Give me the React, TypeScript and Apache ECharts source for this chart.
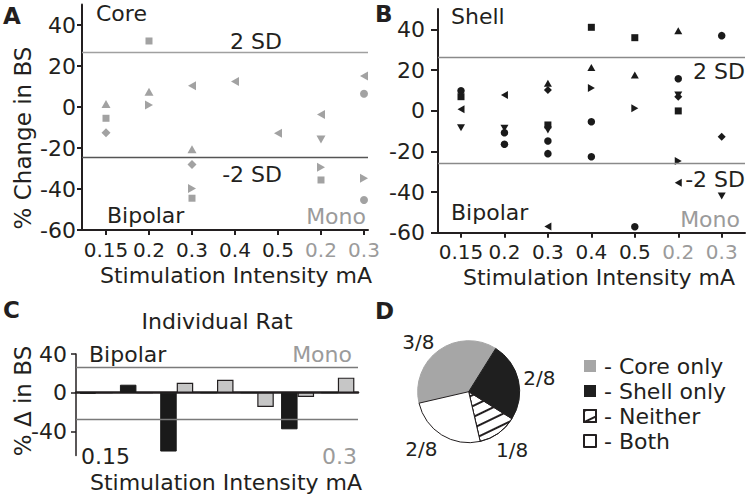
import React, { useEffect, useRef } from 'react';
import * as echarts from 'echarts';

const FONT = 'DejaVu Sans';
const DARK = '#231f20';
const GRAY_TEXT = '#9b9b9b';
const CORE_MARK = '#a2a2a2';
const SHELL_MARK = '#1a1a1a';

// Stimulation intensities (bipolar 0.15..0.5, then monopolar 0.2, 0.3)
const stimLabels = ['0.15', '0.2', '0.3', '0.4', '0.5', '0.2', '0.3'];
const stimPos = [1, 2, 3, 4, 5, 6, 7];
const firstMonoIndex = 5;
const yTicksAB = [-60, -40, -20, 0, 20, 40];
const yTicksC = [-40, 0, 40];

// +/- 2 SD reference levels
const coreSD = [26.5, -24.4];
const shellSD = [26.2, -25.8];
const ratSD = [25.8, -27.8];

// Panel A — Core: [stimulation position, % change in BS]
const coreUp = [[1, 1.5], [2, 7.5], [3, -20.6]];
const coreSquare = [[1, -5.5], [2, 32.2], [3, -44.5], [6, -35.6]];
const coreDiamond = [[1, -12.5], [3, -28]];
const coreRight = [[2, 1], [3, -39.7], [6, -29.4], [7, -34.8]];
const coreLeft = [[3, 10.4], [4, 12.5], [5, -12.8], [6, -3.6], [7, 15.1]];
const coreDown = [[6, -15.8]];
const coreCircle = [[7, 6.5], [7, -45.4]];

// Panel B — Shell
const shellCircle = [[1, 9.8], [2, -10.8], [2, -16.5], [3, -14.9], [3, -21.1], [4, -5.4], [4, -22.6], [5, -57], [6, 15.7], [7, 36.9]];
const shellSquare = [[1, 6.9], [3, -7], [4, 41], [5, 35.9], [6, -0.1]];
const shellLeft = [[1, 0.7], [2, 7.7], [3, -56.9], [6, -35.4]];
const shellDown = [[1, -8.4], [2, -8.6], [3, -9.5], [6, 7.7], [7, -41.9]];
const shellUp = [[3, 13.5], [4, 21.3], [5, 17.5], [6, 39.3]];
const shellDiamond = [[3, 10.2], [6, 6.9], [7, -12.8]];
const shellRight = [[4, 11.2], [5, 1.2], [6, -24.7]];

// Panel C — individual rat
const ratShell = [-1, 8.2, -61, 0, 0, -38, 0];
const ratCore = [0, 0, 10.3, 13.4, -14.8, -4.5, 15.5];

// Panel D
const pieNames = ['Core only', 'Shell only', 'Neither', 'Both'];
const pieCounts = [3, 2, 1, 2];

const SYM = {
  up: 'path://M5,0L10,8L0,8Z',
  down: 'path://M0,0L10,0L5,8Z',
  left: 'path://M8,0L8,10L0,5Z',
  right: 'path://M0,0L8,5L0,10Z',
  square: 'rect',
  diamond: 'diamond',
  circle: 'circle',
};

// small label nudges for the pie fractions (px)
const pieLabelNudge = [[0, -2], [-3, 0], [-7, 10], [0, 7]];

function App() {
  const ref = useRef<HTMLDivElement>(null);
  useEffect(() => {
    if (!ref.current) return;
    const chart = echarts.init(ref.current, null, { renderer: 'svg' });

    const scatter = (data: number[][], sym: string, size: any, color: string, idx: number, extra: any = {}) => ({
      type: 'scatter', xAxisIndex: idx, yAxisIndex: idx, data, symbol: sym, symbolSize: size,
      itemStyle: { color, opacity: 1 }, silent: true, ...extra,
    });

    const sdMark = (vals: number[], colors: string[]) => ({
      silent: true,
      symbol: ['none', 'none'],
      label: { show: false },
      lineStyle: { type: 'solid', width: 1.3 },
      data: vals.map((v, i) => ({ yAxis: v, lineStyle: { color: colors[i], type: 'solid', width: 1.3 } })),
    });

    const stimAxisLabel = {
      customValues: stimPos,
      margin: 10,
      formatter: (v: number) => {
        const i = Math.round(v) - 1;
        return i >= firstMonoIndex ? `{g|${stimLabels[i]}}` : `{d|${stimLabels[i]}}`;
      },
      rich: {
        d: { color: DARK, fontSize: 20, fontFamily: FONT },
        g: { color: GRAY_TEXT, fontSize: 20, fontFamily: FONT },
      },
    };

    const axisLineStyle = { color: DARK, width: 2 };

    const pieSliceStyles = [
      { color: '#a6a6a6', borderColor: '#a6a6a6', borderWidth: 1 },
      { color: '#1f1f1f', borderColor: '#1f1f1f', borderWidth: 1 },
      {
        color: '#ffffff', borderColor: DARK, borderWidth: 1,
        decal: { symbol: 'rect', symbolSize: 1, dashArrayX: [1, 0], dashArrayY: [1.1, 8], rotation: -Math.PI / 7, color: DARK, backgroundColor: '#ffffff' },
      },
      { color: '#ffffff', borderColor: DARK, borderWidth: 1 },
    ];
    const pieTotal = pieCounts.reduce((a, b) => a + b, 0);

    const txt = (text: string, x: number, y: number, o: any = {}) => ({
      type: 'text', x, y, rotation: o.rotation || 0, silent: true,
      style: {
        text, fill: o.color || DARK, fontSize: o.size || 22, fontFamily: FONT,
        fontWeight: o.bold ? 'bold' : 'normal', align: o.align || 'left', verticalAlign: 'middle',
      },
    });

    chart.setOption({
      animation: false,
      textStyle: { fontFamily: FONT },
      grid: [
        { left: 82, top: 4.5, width: 286, height: 225.5 },
        { left: 438, top: 9, width: 307, height: 223.8 },
        { left: 76, top: 354, width: 282, height: 101.4 },
      ],
      xAxis: [
        {
          gridIndex: 0, type: 'value', min: 0.442, max: 7.093,
          axisLine: { onZero: false, lineStyle: axisLineStyle },
          axisTick: { customValues: stimPos, length: 5, lineStyle: { color: DARK, width: 2 } },
          axisLabel: stimAxisLabel, splitLine: { show: false },
        },
        {
          gridIndex: 1, type: 'value', min: 0.4707, max: 7.536,
          axisLine: { onZero: false, lineStyle: axisLineStyle },
          axisTick: { customValues: stimPos, length: 5, lineStyle: { color: DARK, width: 2 } },
          axisLabel: { ...stimAxisLabel, margin: 9 }, splitLine: { show: false },
        },
        {
          gridIndex: 2, type: 'category',
          data: stimLabels.map((l, i) => `${l} ${i >= firstMonoIndex ? 'mono' : 'bipolar'}`),
          axisLine: { onZero: true, lineStyle: { color: DARK, width: 2.5 } },
          axisTick: { alignWithLabel: true, length: 4, lineStyle: { color: DARK, width: 1.5 } },
          axisLabel: { show: false }, splitLine: { show: false },
        },
      ],
      yAxis: [
        {
          gridIndex: 0, type: 'value', min: -60, max: 50,
          axisLine: { show: true, onZero: false, lineStyle: axisLineStyle },
          axisTick: { show: true, customValues: yTicksAB, length: 5, lineStyle: { color: DARK, width: 2 } },
          axisLabel: { customValues: yTicksAB, margin: 6, color: DARK, fontSize: 22, fontFamily: FONT },
          splitLine: { show: false },
        },
        {
          gridIndex: 1, type: 'value', min: -60, max: 50,
          axisLine: { show: true, onZero: false, lineStyle: axisLineStyle },
          axisTick: { show: true, customValues: yTicksAB, length: 7, lineStyle: { color: DARK, width: 2 } },
          axisLabel: { customValues: yTicksAB, margin: 13, color: DARK, fontSize: 22, fontFamily: FONT },
          splitLine: { show: false },
        },
        {
          gridIndex: 2, type: 'value', min: -65, max: 40,
          axisLine: { show: true, onZero: false, lineStyle: { color: DARK, width: 1.5 } },
          axisTick: { show: true, customValues: yTicksC, length: 5, lineStyle: { color: DARK, width: 1.5 } },
          axisLabel: { customValues: yTicksC, margin: 9, color: DARK, fontSize: 22, fontFamily: FONT },
          splitLine: { show: false },
        },
      ],
      legend: {
        data: pieNames.map((n, i) => ({ name: n, itemStyle: i < 2 ? { borderWidth: 0 } : {} })),
        orient: 'vertical', left: 583, top: 355, padding: 0,
        itemWidth: 12, itemHeight: 12, itemGap: 3, icon: 'rect', selectedMode: false,
        formatter: '- {name}',
        textStyle: { fontSize: 22, fontFamily: FONT, color: DARK, padding: [0, 0, 0, 3] },
      },
      series: [
        scatter(coreUp, SYM.up, [9, 8], CORE_MARK, 0, { markLine: sdMark(coreSD, ['#a0a0a0', '#555555']) }),
        scatter(coreSquare, SYM.square, 7, CORE_MARK, 0),
        scatter(coreDiamond, SYM.diamond, [9, 9], CORE_MARK, 0),
        scatter(coreRight, SYM.right, [8, 9], CORE_MARK, 0),
        scatter(coreLeft, SYM.left, [8, 9], CORE_MARK, 0),
        scatter(coreDown, SYM.down, [9, 8], CORE_MARK, 0),
        scatter(coreCircle, SYM.circle, 8, CORE_MARK, 0),

        scatter(shellCircle, SYM.circle, 7.5, SHELL_MARK, 1, { markLine: sdMark(shellSD, ['#8a8a8a', '#8a8a8a']) }),
        scatter(shellSquare, SYM.square, 7, SHELL_MARK, 1),
        scatter(shellLeft, SYM.left, [7, 8], SHELL_MARK, 1),
        scatter(shellDown, SYM.down, [8, 7], SHELL_MARK, 1),
        scatter(shellUp, SYM.up, [8, 7], SHELL_MARK, 1),
        scatter(shellDiamond, SYM.diamond, [8, 8], SHELL_MARK, 1),
        scatter(shellRight, SYM.right, [7, 8], SHELL_MARK, 1),

        {
          type: 'bar', name: 'Shell', xAxisIndex: 2, yAxisIndex: 2, data: ratShell,
          barWidth: 16.5, barGap: '0%', silent: true,
          itemStyle: { color: '#1a1a1a', borderColor: '#1a1a1a', borderWidth: 1 },
          markLine: sdMark(ratSD, ['#7a7a7a', '#7a7a7a']),
        },
        {
          type: 'bar', name: 'Core', xAxisIndex: 2, yAxisIndex: 2, data: ratCore,
          barWidth: 16.5, barGap: '0%', silent: true,
          itemStyle: { color: '#c6c6c6', borderColor: DARK, borderWidth: 1.2 },
        },

        {
          type: 'pie', center: [468.7, 391.7], radius: 51, startAngle: 193, clockwise: true,
          avoidLabelOverlap: false, silent: true,
          label: {
            show: true, position: 'outside', distanceToLabelLine: 0,
            formatter: (p: any) => `${p.value}/${pieTotal}`,
            fontSize: 20, fontFamily: FONT, color: DARK,
          },
          labelLine: { show: false, length: 8, length2: 0 },
          labelLayout: (p: any) => ({ dx: pieLabelNudge[p.dataIndex][0], dy: pieLabelNudge[p.dataIndex][1] }),
          data: pieNames.map((n, i) => ({ name: n, value: pieCounts[i], itemStyle: pieSliceStyles[i] })),
        },
      ],
      graphic: [
        txt('A', 3, 15.5, { bold: true, size: 23 }),
        txt('Core', 96, 13.5),
        txt('2 SD', 282, 41.5, { align: 'right' }),
        txt('-2 SD', 282, 174.5, { align: 'right' }),
        txt('Bipolar', 107, 215),
        txt('Mono', 366, 216, { align: 'right', color: GRAY_TEXT }),
        txt('% Change in BS', 23, 138, { rotation: Math.PI / 2, align: 'center', size: 23 }),
        txt('Stimulation Intensity mA', 236, 275, { align: 'center' }),

        txt('B', 375, 14, { bold: true, size: 23 }),
        txt('Shell', 451, 16),
        txt('2 SD', 745, 71.5, { align: 'right' }),
        txt('-2 SD', 745, 179, { align: 'right' }),
        txt('Bipolar', 451, 212),
        txt('Mono', 740, 219, { align: 'right', color: GRAY_TEXT }),
        txt('Stimulation Intensity mA', 599, 277, { align: 'center' }),

        txt('C', 3, 310, { bold: true, size: 23 }),
        txt('Individual Rat', 217, 321.5, { align: 'center' }),
        txt('Bipolar', 89, 354.5),
        txt('Mono', 352, 354.5, { align: 'right', color: GRAY_TEXT }),
        txt('0.15', 81, 456.5),
        txt('0.3', 357, 456.5, { align: 'right', color: GRAY_TEXT }),
        txt('% Δ in BS', 23, 401, { rotation: Math.PI / 2, align: 'center', size: 23 }),
        txt('Stimulation Intensity mA', 226, 482, { align: 'center' }),

        txt('D', 375, 310.5, { bold: true, size: 23 }),
      ],
    });
    return () => chart.dispose();
  }, []);
  return <div ref={ref} style={{ position: 'fixed', left: 0, top: 0, width: 750, height: 498, background: '#fff' }} />;
}

export default App;
